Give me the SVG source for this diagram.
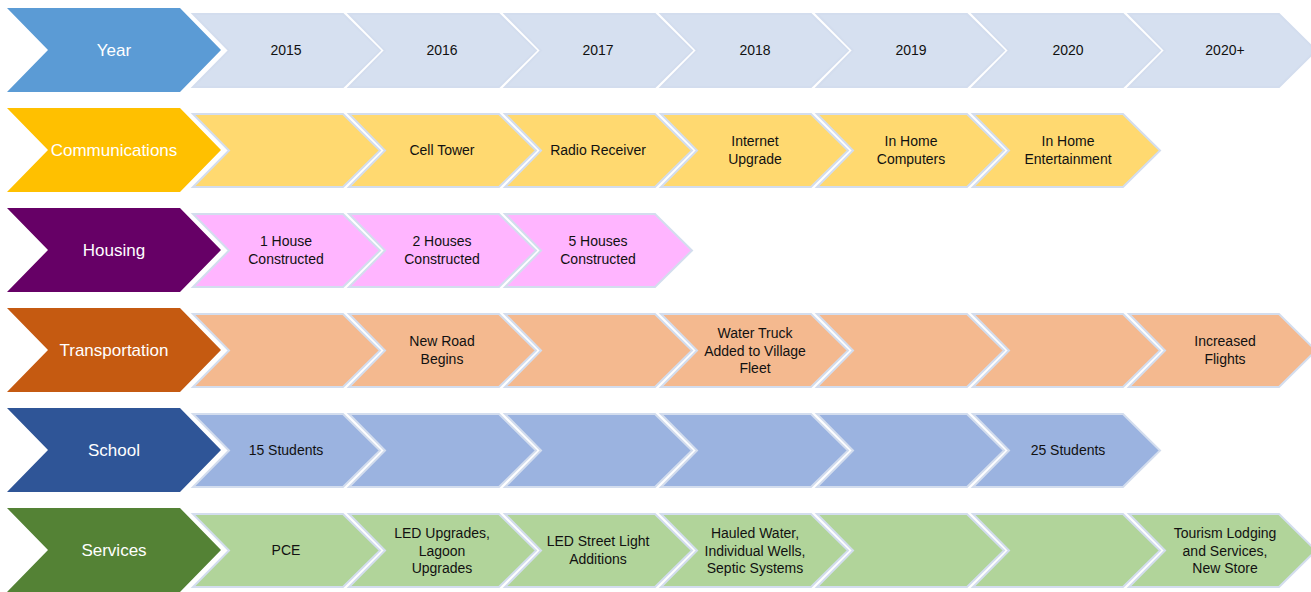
<svg xmlns="http://www.w3.org/2000/svg" width="1311" height="592" viewBox="0 0 1311 592">
<defs>
<style>
.head{stroke:none}
.sec{stroke:#D3DDEE;stroke-width:2;stroke-linejoin:miter}
.ht{font-family:"Liberation Sans",Arial,sans-serif;font-size:17px;fill:#FFFFFF;text-anchor:middle}
.st{font-family:"Liberation Sans",Arial,sans-serif;font-size:14px;fill:#111111;text-anchor:middle}
</style>
<path id="hd" d="M7,8 L180,8 L221,50 L180,92 L7,92 L48,50 Z"/>
<path id="sc" d="M0,14 L150,14 L187,50.5 L150,87 L0,87 L36,50.5 Z"/>
</defs>
<rect width="1311" height="592" fill="#FFFFFF"/>

<!-- Row: Year -->
<g id="row-year">
<g id="year-head"><use href="#hd" fill="#5B9BD5"/><text class="ht" x="114" y="56">Year</text></g>
<g id="year-2015"><use href="#sc" class="sec" x="193" fill="#D6E0F0"/><text class="st" x="286" y="55">2015</text></g>
<g id="year-2016"><use href="#sc" class="sec" x="349" fill="#D6E0F0"/><text class="st" x="442" y="55">2016</text></g>
<g id="year-2017"><use href="#sc" class="sec" x="505" fill="#D6E0F0"/><text class="st" x="598" y="55">2017</text></g>
<g id="year-2018"><use href="#sc" class="sec" x="661" fill="#D6E0F0"/><text class="st" x="755" y="55">2018</text></g>
<g id="year-2019"><use href="#sc" class="sec" x="817" fill="#D6E0F0"/><text class="st" x="911" y="55">2019</text></g>
<g id="year-2020"><use href="#sc" class="sec" x="973" fill="#D6E0F0"/><text class="st" x="1068" y="55">2020</text></g>
<g id="year-2020plus"><use href="#sc" class="sec" x="1129" fill="#D6E0F0"/><text class="st" x="1225" y="55">2020+</text></g>
</g>

<!-- Row: Communications -->
<g id="row-comm" transform="translate(0,100)">
<g id="comm-head"><use href="#hd" fill="#FFC000"/><text class="ht" x="114" y="56">Communications</text></g>
<g id="comm-2015"><use href="#sc" class="sec" x="193" fill="#FFD970"/></g>
<g id="comm-2016"><use href="#sc" class="sec" x="349" fill="#FFD970"/><text class="st" x="442" y="55">Cell Tower</text></g>
<g id="comm-2017"><use href="#sc" class="sec" x="505" fill="#FFD970"/><text class="st" x="598" y="55">Radio Receiver</text></g>
<g id="comm-2018"><use href="#sc" class="sec" x="661" fill="#FFD970"/><text class="st" x="755" y="46">Internet</text><text class="st" x="755" y="64">Upgrade</text></g>
<g id="comm-2019"><use href="#sc" class="sec" x="817" fill="#FFD970"/><text class="st" x="911" y="46">In Home</text><text class="st" x="911" y="64">Computers</text></g>
<g id="comm-2020"><use href="#sc" class="sec" x="973" fill="#FFD970"/><text class="st" x="1068" y="46">In Home</text><text class="st" x="1068" y="64">Entertainment</text></g>
</g>

<!-- Row: Housing -->
<g id="row-housing" transform="translate(0,200)">
<g id="housing-head"><use href="#hd" fill="#660066"/><text class="ht" x="114" y="56">Housing</text></g>
<g id="housing-2015"><use href="#sc" class="sec" x="193" fill="#FFB5FF"/><text class="st" x="286" y="46">1 House</text><text class="st" x="286" y="64">Constructed</text></g>
<g id="housing-2016"><use href="#sc" class="sec" x="349" fill="#FFB5FF"/><text class="st" x="442" y="46">2 Houses</text><text class="st" x="442" y="64">Constructed</text></g>
<g id="housing-2017"><use href="#sc" class="sec" x="505" fill="#FFB5FF"/><text class="st" x="598" y="46">5 Houses</text><text class="st" x="598" y="64">Constructed</text></g>
</g>

<!-- Row: Transportation -->
<g id="row-transport" transform="translate(0,300)">
<g id="transport-head"><use href="#hd" fill="#C55A11"/><text class="ht" x="114" y="56">Transportation</text></g>
<g id="transport-2015"><use href="#sc" class="sec" x="193" fill="#F4B98F"/></g>
<g id="transport-2016"><use href="#sc" class="sec" x="349" fill="#F4B98F"/><text class="st" x="442" y="46">New Road</text><text class="st" x="442" y="64">Begins</text></g>
<g id="transport-2017"><use href="#sc" class="sec" x="505" fill="#F4B98F"/></g>
<g id="transport-2018"><use href="#sc" class="sec" x="661" fill="#F4B98F"/><text class="st" x="755" y="38">Water Truck</text><text class="st" x="755" y="55.5">Added to Village</text><text class="st" x="755" y="73">Fleet</text></g>
<g id="transport-2019"><use href="#sc" class="sec" x="817" fill="#F4B98F"/></g>
<g id="transport-2020"><use href="#sc" class="sec" x="973" fill="#F4B98F"/></g>
<g id="transport-2020plus"><use href="#sc" class="sec" x="1129" fill="#F4B98F"/><text class="st" x="1225" y="46">Increased</text><text class="st" x="1225" y="64">Flights</text></g>
</g>

<!-- Row: School -->
<g id="row-school" transform="translate(0,400)">
<g id="school-head"><use href="#hd" fill="#2F5597"/><text class="ht" x="114" y="56">School</text></g>
<g id="school-2015"><use href="#sc" class="sec" x="193" fill="#9BB3E0"/><text class="st" x="286" y="55">15 Students</text></g>
<g id="school-2016"><use href="#sc" class="sec" x="349" fill="#9BB3E0"/></g>
<g id="school-2017"><use href="#sc" class="sec" x="505" fill="#9BB3E0"/></g>
<g id="school-2018"><use href="#sc" class="sec" x="661" fill="#9BB3E0"/></g>
<g id="school-2019"><use href="#sc" class="sec" x="817" fill="#9BB3E0"/></g>
<g id="school-2020"><use href="#sc" class="sec" x="973" fill="#9BB3E0"/><text class="st" x="1068" y="55">25 Students</text></g>
</g>

<!-- Row: Services -->
<g id="row-services" transform="translate(0,500)">
<g id="services-head"><use href="#hd" fill="#548235"/><text class="ht" x="114" y="56">Services</text></g>
<g id="services-2015"><use href="#sc" class="sec" x="193" fill="#B1D49A"/><text class="st" x="286" y="55">PCE</text></g>
<g id="services-2016"><use href="#sc" class="sec" x="349" fill="#B1D49A"/><text class="st" x="442" y="38">LED Upgrades,</text><text class="st" x="442" y="55.5">Lagoon</text><text class="st" x="442" y="73">Upgrades</text></g>
<g id="services-2017"><use href="#sc" class="sec" x="505" fill="#B1D49A"/><text class="st" x="598" y="46">LED Street Light</text><text class="st" x="598" y="64">Additions</text></g>
<g id="services-2018"><use href="#sc" class="sec" x="661" fill="#B1D49A"/><text class="st" x="755" y="38">Hauled Water,</text><text class="st" x="755" y="55.5">Individual Wells,</text><text class="st" x="755" y="73">Septic Systems</text></g>
<g id="services-2019"><use href="#sc" class="sec" x="817" fill="#B1D49A"/></g>
<g id="services-2020"><use href="#sc" class="sec" x="973" fill="#B1D49A"/></g>
<g id="services-2020plus"><use href="#sc" class="sec" x="1129" fill="#B1D49A"/><text class="st" x="1225" y="38">Tourism Lodging</text><text class="st" x="1225" y="55.5">and Services,</text><text class="st" x="1225" y="73">New Store</text></g>
</g>

<g id="connectors"></g>
</svg>
